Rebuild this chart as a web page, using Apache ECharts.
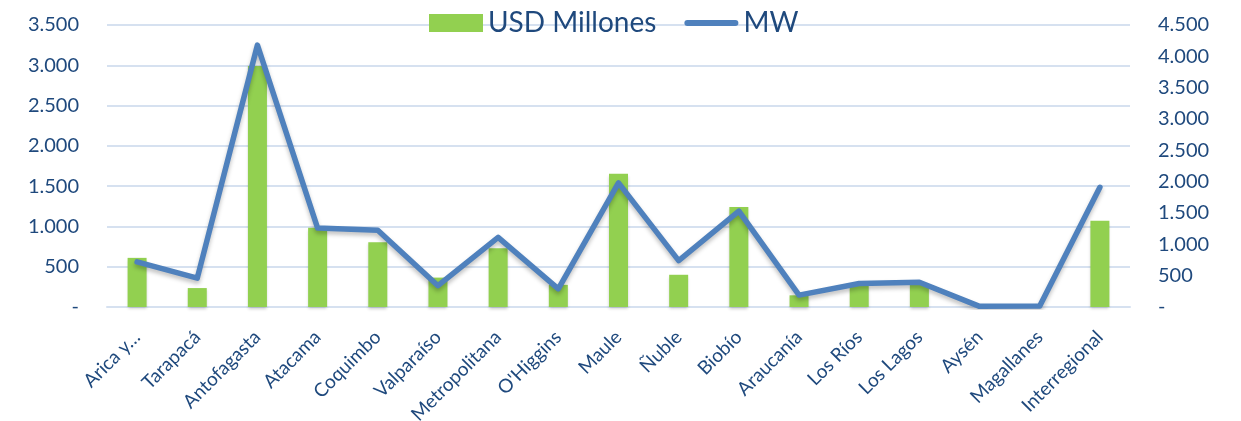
<!DOCTYPE html>
<html>
<head>
<meta charset="utf-8">
<script src="https://cdn.jsdelivr.net/npm/echarts@6/dist/echarts.min.js"></script>
<style>
  html, body { margin: 0; padding: 0; background: #fff; }
  #main { width: 1241px; height: 421px; }
</style>
</head>
<body>
<div id="main"></div>
<script>
var regiones = ["Arica y…", "Tarapacá", "Antofagasta", "Atacama", "Coquimbo", "Valparaíso",
  "Metropolitana", "O'Higgins", "Maule", "Ñuble", "Biobío", "Araucanía", "Los Ríos",
  "Los Lagos", "Aysén", "Magallanes", "Interregional"];
var usdMillones = [610, 235, 2990, 985, 805, 365, 730, 275, 1655, 400, 1240, 145, 290, 285, 0, 0, 1070];
var mw = [720, 460, 4180, 1260, 1225, 340, 1110, 290, 1980, 740, 1530, 190, 375, 395, 10, 15, 1910];

var azul = '#1F497D';

// separador de miles con punto, cero como "-"
function fmt(v) {
  if (v === 0) return '-';
  return String(v).replace(/\B(?=(\d{3})+(?!\d))/g, '.');
}

var myChart = echarts.init(document.getElementById('main'));

var option = {
  animation: false,
  textStyle: { fontFamily: 'Lato' },
  legend: {
    top: 4,
    left: 424,
    itemGap: 28,
    itemWidth: 54,
    itemHeight: 18,
    textStyle: { color: azul, fontSize: 28, fontFamily: 'Lato' },
    data: [
      { name: 'USD Millones', icon: 'rect' },
      { name: 'MW', icon: 'path://M3,0 L51,0 A3,3 0 0 1 51,6 L3,6 A3,3 0 0 1 3,0 Z' }
    ]
  },
  grid: {
    left: 107,
    right: 111,
    top: 25,
    bottom: 114,
    outerBoundsMode: 'none'
  },
  xAxis: {
    type: 'category',
    data: regiones,
    axisLine: { lineStyle: { color: '#D6E1F0', width: 2 } },
    axisTick: { show: false },
    axisLabel: {
      rotate: 45,
      interval: 0,
      color: azul,
      fontSize: 19,
      margin: 27
    }
  },
  yAxis: [
    {
      type: 'value',
      min: 0,
      max: 3500,
      interval: 500,
      axisLine: { show: false },
      axisTick: { show: false },
      splitLine: { lineStyle: { color: '#D6E1F0', width: 2 } },
      axisLabel: { color: azul, fontSize: 20, margin: 28, formatter: fmt }
    },
    {
      type: 'value',
      min: 0,
      max: 4500,
      interval: 500,
      axisLine: { show: false },
      axisTick: { show: false },
      splitLine: { show: false },
      axisLabel: { color: azul, fontSize: 20, margin: 28, formatter: fmt }
    }
  ],
  series: [
    {
      name: 'USD Millones',
      type: 'bar',
      yAxisIndex: 0,
      barWidth: 19,
      data: usdMillones,
      itemStyle: {
        color: '#92D050',
        shadowColor: 'rgba(0,0,0,0.2)',
        shadowBlur: 3,
        shadowOffsetY: 2
      }
    },
    {
      name: 'MW',
      type: 'line',
      yAxisIndex: 1,
      data: mw,
      symbol: 'none',
      itemStyle: { color: '#4F81BD' },
      lineStyle: {
        color: '#4F81BD',
        width: 5.5,
        cap: 'round',
        join: 'round',
        shadowColor: 'rgba(0,0,0,0.25)',
        shadowBlur: 4,
        shadowOffsetY: 3
      }
    }
  ]
};

myChart.setOption(option);
</script>
</body>
</html>
